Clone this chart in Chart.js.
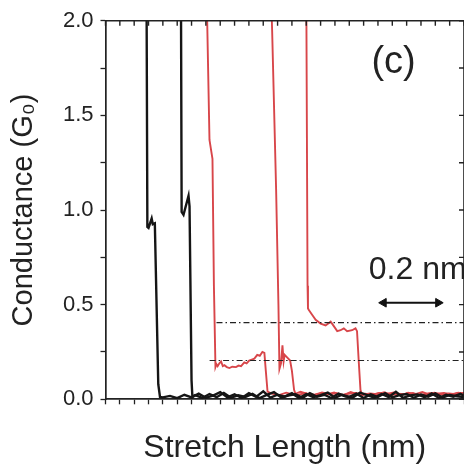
<!DOCTYPE html>
<html><head><meta charset="utf-8">
<style>
html,body{margin:0;padding:0;overflow:hidden;background:#fff;width:464px;height:467px}
#wrap{position:relative;width:470px;height:467px}
canvas{display:block}
</style>
<script src="https://cdn.jsdelivr.net/npm/chart.js@4.4.0/dist/chart.umd.min.js"></script>
</head><body><div id="wrap"><canvas id="c" width="470" height="467"></canvas></div>
<script>
// ---------------- data (x in nm, y in G0) ----------------
const yTickValues = [0.0, 0.5, 1.0, 1.5, 2.0];
const yTickLabels = ['0.0', '0.5', '1.0', '1.5', '2.0'];

// black trace 1 (breaking part)
const black1X = [0.143, 0.146, 0.150, 0.161, 0.165, 0.172, 0.184, 0.190];
const black1Y = [2.2, 0.91, 0.905, 0.955, 0.925, 0.93, 0.08, 0.012];
const black1BaseX = [0.200,0.225,0.250,0.275,0.300,0.325,0.350,0.375,0.400,0.425,0.450,0.475,0.500,0.525,0.550,0.575,0.600,0.625,0.650,0.675,0.700,0.725,0.750,0.775,0.800,0.825,0.850,0.875,0.900,0.925,0.950,0.975,1.000,1.025,1.050,1.075,1.100,1.125,1.150,1.175,1.200,1.225,1.250,1.275];
const black1BaseY = [0.010,0.018,0.006,0.024,0.010,0.030,0.008,0.020,0.038,0.010,0.026,0.007,0.032,0.013,0.042,0.009,0.024,0.014,0.032,0.006,0.027,0.011,0.022,0.036,0.008,0.024,0.013,0.030,0.007,0.026,0.012,0.033,0.010,0.022,0.028,0.008,0.025,0.014,0.031,0.009,0.023,0.016,0.012,0.020];

// black trace 2
const black2X = [0.263, 0.2655, 0.272, 0.2895, 0.293, 0.300, 0.303];
const black2Y = [2.2, 0.99, 0.975, 1.075, 1.02, 0.10, 0.012];
const black2BaseX = [0.3125,0.3375,0.3625,0.3875,0.4125,0.4375,0.4625,0.4875,0.5125,0.5375,0.5625,0.5875,0.6125,0.6375,0.6625,0.6875,0.7125,0.7375,0.7625,0.7875,0.8125,0.8375,0.8625,0.8875,0.9125,0.9375,0.9625,0.9875,1.0125,1.0375,1.0625,1.0875,1.1125,1.1375,1.1625,1.1875,1.2125,1.2375,1.2625];
const black2BaseY = [0.022,0.007,0.028,0.011,0.034,0.008,0.021,0.012,0.029,0.006,0.023,0.038,0.010,0.020,0.027,0.008,0.032,0.013,0.024,0.007,0.030,0.015,0.010,0.035,0.022,0.009,0.028,0.012,0.040,0.008,0.021,0.026,0.011,0.031,0.007,0.024,0.014,0.029,0.010];

// red trace 1
const red1X = [0.352, 0.3626, 0.373, 0.378, 0.3834, 0.387, 0.391, 0.397, 0.403, 0.409, 0.4146, 0.423, 0.432, 0.442, 0.455, 0.464, 0.4726, 0.484, 0.492, 0.501, 0.510, 0.519, 0.529, 0.538, 0.547, 0.554, 0.559, 0.565];
const red1Y = [2.2, 1.37, 1.27, 0.60, 0.17, 0.185, 0.175, 0.19, 0.20, 0.175, 0.18, 0.17, 0.165, 0.172, 0.17, 0.178, 0.175, 0.195, 0.19, 0.205, 0.21, 0.215, 0.235, 0.23, 0.25, 0.245, 0.15, 0.04];
const red1BaseX = [0.580,0.605,0.630,0.655,0.680,0.705,0.730,0.755,0.780,0.805,0.830,0.855,0.880,0.905,0.930,0.955,0.980,1.005,1.030,1.055,1.080,1.105,1.130,1.155,1.180,1.205,1.230,1.255,1.280];
const red1BaseY = [0.030,0.022,0.035,0.025,0.040,0.028,0.024,0.036,0.027,0.032,0.022,0.038,0.026,0.030,0.024,0.034,0.028,0.036,0.025,0.031,0.027,0.038,0.024,0.030,0.033,0.026,0.035,0.028,0.030];

// red trace 2
const red2X = [0.576, 0.581, 0.595, 0.603, 0.6065, 0.612, 0.617, 0.621, 0.6245, 0.634, 0.6437, 0.650, 0.6575, 0.6645];
const red2Y = [2.2, 1.95, 1.10, 0.50, 0.16, 0.19, 0.285, 0.20, 0.235, 0.22, 0.205, 0.15, 0.05, 0.02];
const red2BaseX = [0.672,0.697,0.722,0.747,0.772,0.797,0.822,0.847,0.872,0.897,0.922,0.947,0.972,0.997,1.022,1.047,1.072,1.097,1.122,1.147,1.172,1.197,1.222,1.247,1.272];
const red2BaseY = [0.025,0.032,0.020,0.030,0.026,0.036,0.022,0.029,0.034,0.024,0.031,0.027,0.037,0.023,0.030,0.026,0.033,0.021,0.029,0.035,0.025,0.031,0.027,0.034,0.024];

// red trace 3
const red3X = [0.700, 0.7045, 0.706, 0.7096, 0.721, 0.7328, 0.750, 0.7675, 0.785, 0.7967, 0.808, 0.8196, 0.831, 0.8425, 0.860, 0.8717, 0.877, 0.883, 0.889, 0.8945];
const red3Y = [2.2, 0.60, 0.48, 0.47, 0.445, 0.42, 0.40, 0.39, 0.41, 0.385, 0.36, 0.365, 0.375, 0.36, 0.365, 0.375, 0.36, 0.20, 0.05, 0.02];
const red3BaseX = [0.905,0.930,0.955,0.980,1.005,1.030,1.055,1.080,1.105,1.130,1.155,1.180,1.205,1.230,1.255,1.280];
const red3BaseY = [0.028,0.022,0.033,0.026,0.030,0.021,0.035,0.027,0.024,0.032,0.026,0.030,0.023,0.034,0.027,0.029];

// dash-dot reference levels
const level1X = [0.387, 1.30];
const level1Y = [0.405, 0.405];
const level2X = [0.363, 1.30];
const level2Y = [0.205, 0.205];

// 0.2 nm scale arrow
const arrowX = [0.970, 1.160];
const arrowY = [0.51, 0.51];

// ---------------- build ----------------
function pts(xs, ys) { return xs.map((x, i) => ({x: x, y: ys[i]})); }
const FONT = '"Liberation Sans", Arial, Helvetica, sans-serif';
const BLACK = '#151515';
const RED = '#d8464a';

function trace(xs, ys, bx, by, color, w) {
  return {data: pts(xs.concat(bx), ys.concat(by)), borderColor: color, borderWidth: w,
          pointRadius: 0, tension: 0, fill: false};
}

const framePlugin = {
  id: 'frame',
  afterDatasetsDraw(chart) {
    const {ctx, chartArea: a, scales: {x, y}} = chart;
    ctx.save();
    ctx.strokeStyle = '#222';
    ctx.lineWidth = 1.6;
    ctx.beginPath();
    ctx.moveTo(a.left, a.top); ctx.lineTo(a.right, a.top); ctx.lineTo(a.right, a.bottom);
    ctx.stroke();
    ctx.lineWidth = 1.4;
    ctx.beginPath();
    x.ticks.forEach(t => { const px = x.getPixelForValue(t.value); ctx.moveTo(px, a.top); ctx.lineTo(px, a.top + 5); });
    y.ticks.forEach(t => { const py = y.getPixelForValue(t.value); ctx.moveTo(a.right, py); ctx.lineTo(a.right - 5, py); });
    ctx.stroke();
    ctx.fillStyle = '#222';
    ctx.font = '38px ' + FONT;
    ctx.textAlign = 'center'; ctx.textBaseline = 'middle';
    ctx.fillText('(c)', x.getPixelForValue(1.0045), y.getPixelForValue(1.777));
    ctx.font = '32px ' + FONT;
    ctx.textAlign = 'left'; ctx.textBaseline = 'alphabetic';
    ctx.fillText('0.2 nm', x.getPixelForValue(0.918), y.getPixelForValue(0.6355));
    ctx.restore();
  }
};

new Chart(document.getElementById('c'), {
  type: 'line',
  data: {
    datasets: [
      {data: pts(level1X, level1Y), borderColor: '#222', borderWidth: 1.1, borderDash: [6, 3, 1.5, 3], pointRadius: 0},
      {data: pts(level2X, level2Y), borderColor: '#222', borderWidth: 1.1, borderDash: [6, 3, 1.5, 3], pointRadius: 0},
      trace(black1X, black1Y, black1BaseX, black1BaseY, BLACK, 2.4),
      trace(black2X, black2Y, black2BaseX, black2BaseY, BLACK, 2.4),
      trace(red1X, red1Y, red1BaseX, red1BaseY, RED, 1.9),
      trace(red2X, red2Y, red2BaseX, red2BaseY, RED, 1.9),
      trace(red3X, red3Y, red3BaseX, red3BaseY, RED, 1.9),
      {data: pts(arrowX, arrowY), borderColor: '#111', borderWidth: 1.8, pointStyle: 'triangle',
       pointRadius: 5, pointRotation: [270, 90], pointBackgroundColor: '#111', pointBorderColor: '#111', pointBorderWidth: 1}
    ]
  },
  options: {
    responsive: false,
    animation: false,
    devicePixelRatio: 1,
    layout: {padding: {top: 20.7, right: 4.2, left: 0, bottom: 0}},
    plugins: {legend: {display: false}, tooltip: {enabled: false}},
    scales: {
      x: {
        type: 'linear', min: 0, max: 1.25,
        ticks: {display: false, stepSize: 0.05},
        grid: {drawOnChartArea: false, drawTicks: true, tickLength: 5, color: '#222', tickWidth: 1.3},
        border: {display: true, color: '#222', width: 1.7},
        title: {display: true, text: 'Stretch Length (nm)', color: '#222',
                font: {family: FONT, size: 32}, padding: {top: 0, bottom: 0}},
        afterFit(s) { s.height = 67.7; }
      },
      y: {
        type: 'linear', min: 0, max: 2.0,
        ticks: {stepSize: 0.25, color: '#222', padding: 7, font: {family: FONT, size: 22},
                callback: (v) => { const i = yTickValues.findIndex(t => Math.abs(t - v) < 1e-6); return i >= 0 ? yTickLabels[i] : ''; }},
        grid: {drawOnChartArea: false, drawTicks: true, tickLength: 5, color: '#222', tickWidth: 1.3},
        border: {display: true, color: '#222', width: 1.7},
        title: {display: true, text: 'Conductance (G₀)', color: '#222',
                font: {family: FONT, size: 29}, padding: {top: 7, bottom: 0}},
        afterFit(s) { s.width = 105.5; }
      }
    }
  },
  plugins: [framePlugin]
});
</script>
</body></html>
